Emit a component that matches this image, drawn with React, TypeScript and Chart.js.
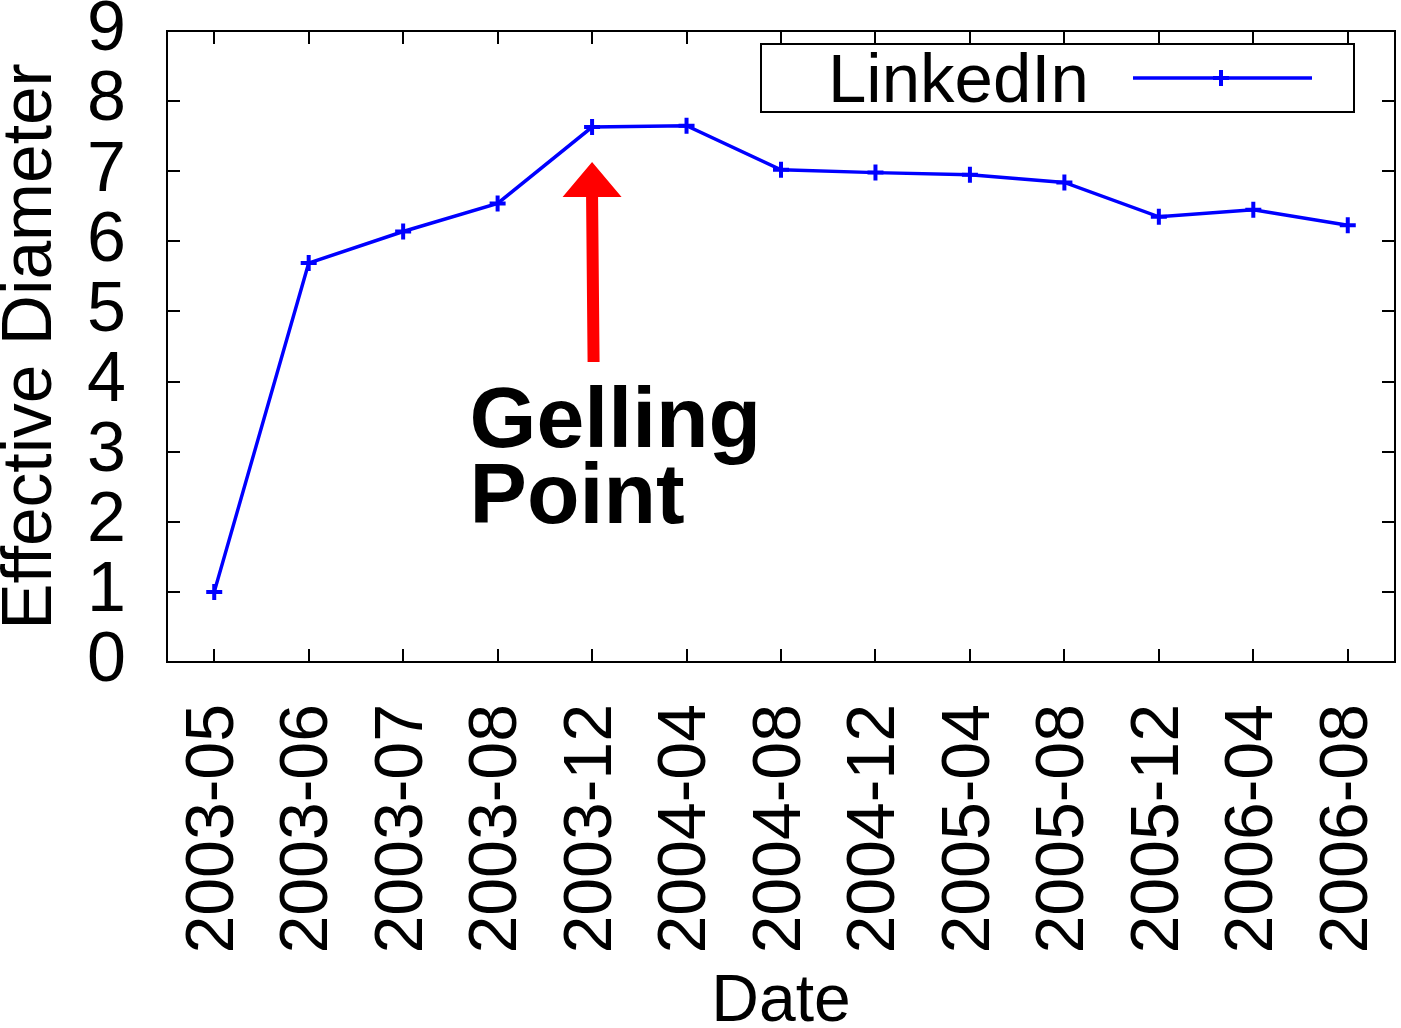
import React, { useEffect, useRef } from 'react';
import { Chart, registerables } from 'chart.js';

Chart.register(...registerables);

const categories = [
  '2003-05', '2003-06', '2003-07', '2003-08', '2003-12', '2004-04', '2004-08',
  '2004-12', '2005-04', '2005-08', '2005-12', '2006-04', '2006-08',
];
const seriesLabel = 'LinkedIn';
const diameterValues = [1.0, 5.69, 6.14, 6.54, 7.63, 7.65, 7.02, 6.98, 6.95, 6.84, 6.35, 6.45, 6.23];
const yMin = 0;
const yMax = 9;
const yStep = 1;
const xTitle = 'Date';
const yTitle = 'Effective Diameter';
const annotationCategory = '2003-12';
const arrowFromValue = 4.28;
const arrowToValue = 7.13;
const annotationLines = ['Gelling', 'Point'];

const FONT = "'Liberation Sans', Arial, Helvetica, sans-serif";
const BLUE = '#0000ff';

export default function App() {
  const canvasRef = useRef<HTMLCanvasElement>(null);

  useEffect(() => {
    const canvas = canvasRef.current;
    if (!canvas) return;

    const decor = {
      id: 'gnuplotDecor',
      afterDraw(chart: any) {
        const { ctx, chartArea: a, scales } = chart;
        const x = scales.x;
        const y = scales.y;
        ctx.save();
        // border
        ctx.strokeStyle = '#000';
        ctx.lineWidth = 2;
        ctx.strokeRect(a.left, a.top, a.right - a.left, a.bottom - a.top);
        // mirrored inward ticks
        const tl = 13;
        ctx.beginPath();
        x.ticks.forEach((_: any, i: number) => {
          const px = Math.round(x.getPixelForTick(i));
          ctx.moveTo(px, a.bottom);
          ctx.lineTo(px, a.bottom - tl);
          ctx.moveTo(px, a.top);
          ctx.lineTo(px, a.top + tl);
        });
        y.ticks.forEach((_: any, i: number) => {
          const py = Math.round(y.getPixelForTick(i));
          ctx.moveTo(a.left, py);
          ctx.lineTo(a.left + tl, py);
          ctx.moveTo(a.right, py);
          ctx.lineTo(a.right - tl, py);
        });
        ctx.stroke();

        // legend
        const lgRight = a.right - 41;
        const lgLeft = lgRight - 593;
        const lgTop = a.top + 13;
        const lgH = 68;
        ctx.fillStyle = '#fff';
        ctx.fillRect(lgLeft, lgTop, lgRight - lgLeft, lgH);
        ctx.strokeStyle = '#000';
        ctx.lineWidth = 2;
        ctx.strokeRect(lgLeft, lgTop, lgRight - lgLeft, lgH);
        ctx.fillStyle = '#000';
        ctx.font = `69px ${FONT}`;
        ctx.textBaseline = 'alphabetic';
        ctx.textAlign = 'left';
        ctx.fillText(seriesLabel, lgLeft + 67, lgTop + 58);
        const ly = lgTop + 34;
        ctx.strokeStyle = BLUE;
        ctx.lineWidth = 3.5;
        ctx.beginPath();
        ctx.moveTo(lgLeft + 372, ly);
        ctx.lineTo(lgLeft + 551, ly);
        ctx.stroke();
        ctx.lineWidth = 4;
        ctx.beginPath();
        ctx.moveTo(lgLeft + 460, ly - 8);
        ctx.lineTo(lgLeft + 460, ly + 8);
        ctx.moveTo(lgLeft + 452, ly);
        ctx.lineTo(lgLeft + 468, ly);
        ctx.stroke();

        // arrow
        const ax = x.getPixelForValue(categories.indexOf(annotationCategory));
        const yBase = y.getPixelForValue(arrowFromValue);
        const yTip = y.getPixelForValue(arrowToValue);
        const headH = 35;
        const headW = 59;
        const shaftW = 12;
        ctx.fillStyle = '#ff0000';
        ctx.beginPath();
        ctx.moveTo(ax + 1.5 - shaftW / 2, yBase);
        ctx.lineTo(ax + 1.5 + shaftW / 2, yBase);
        ctx.lineTo(ax + shaftW / 2, yTip + headH);
        ctx.lineTo(ax + headW / 2, yTip + headH);
        ctx.lineTo(ax, yTip);
        ctx.lineTo(ax - headW / 2, yTip + headH);
        ctx.lineTo(ax - shaftW / 2, yTip + headH);
        ctx.closePath();
        ctx.fill();

        // annotation text
        const tx = x.getPixelForValue(categories.indexOf(annotationCategory) - 1) - 28;
        ctx.fillStyle = '#000';
        ctx.font = `bold 86px ${FONT}`;
        ctx.fillText(annotationLines[0], tx, yBase + 85);
        ctx.fillText(annotationLines[1], tx, yBase + 161);
        ctx.restore();
      },
    };

    const chart = new Chart(canvas, {
      type: 'line',
      data: {
        labels: categories,
        datasets: [
          {
            label: seriesLabel,
            data: diameterValues,
            borderColor: BLUE,
            backgroundColor: BLUE,
            borderWidth: 3.5,
            pointStyle: 'cross',
            pointRadius: 8,
            pointBorderWidth: 4,
            pointHoverRadius: 8,
            tension: 0,
            fill: false,
          },
        ],
      },
      options: {
        responsive: false,
        animation: false,
        devicePixelRatio: 1,
        events: [],
        layout: { autoPadding: false, padding: { top: 31, right: 6, left: 0, bottom: 0 } },
        plugins: {
          legend: { display: false },
          tooltip: { enabled: false },
        },
        scales: {
          x: {
            type: 'category',
            offset: true,
            grid: { display: false, drawTicks: false },
            border: { display: false },
            ticks: {
              autoSkip: false,
              maxRotation: 90,
              minRotation: 90,
              padding: 42,
              color: '#000',
              font: { family: FONT, size: 68 },
            },
            title: {
              display: true,
              text: xTitle,
              color: '#000',
              font: { family: FONT, size: 66, lineHeight: 0.75 },
              padding: { top: 0, bottom: 0 },
            },
            afterFit(scale: any) {
              scale.height = 366;
              scale.paddingLeft = 0;
              scale.paddingRight = 0;
              scale.paddingTop = 0;
              scale.paddingBottom = 0;
            },
          },
          y: {
            min: yMin,
            max: yMax,
            grid: { display: false, drawTicks: false },
            border: { display: false },
            ticks: {
              autoSkip: false,
              stepSize: yStep,
              padding: 41,
              color: '#000',
              font: { family: FONT, size: 70 },
            },
            title: {
              display: true,
              text: yTitle,
              color: '#000',
              font: { family: FONT, size: 69.5, lineHeight: 0.8 },
              padding: { top: 4, bottom: 0 },
            },
            afterFit(scale: any) {
              scale.width = 167;
              scale.paddingLeft = 0;
              scale.paddingRight = 0;
              scale.paddingTop = 0;
              scale.paddingBottom = 0;
            },
          },
        },
      },
      plugins: [decor],
    });

    return () => chart.destroy();
  }, []);

  return (
    <div style={{ position: 'absolute', left: 0, top: 0, width: 1401, height: 1028, background: '#fff' }}>
      <canvas ref={canvasRef} width={1401} height={1028} style={{ display: 'block' }} />
    </div>
  );
}
